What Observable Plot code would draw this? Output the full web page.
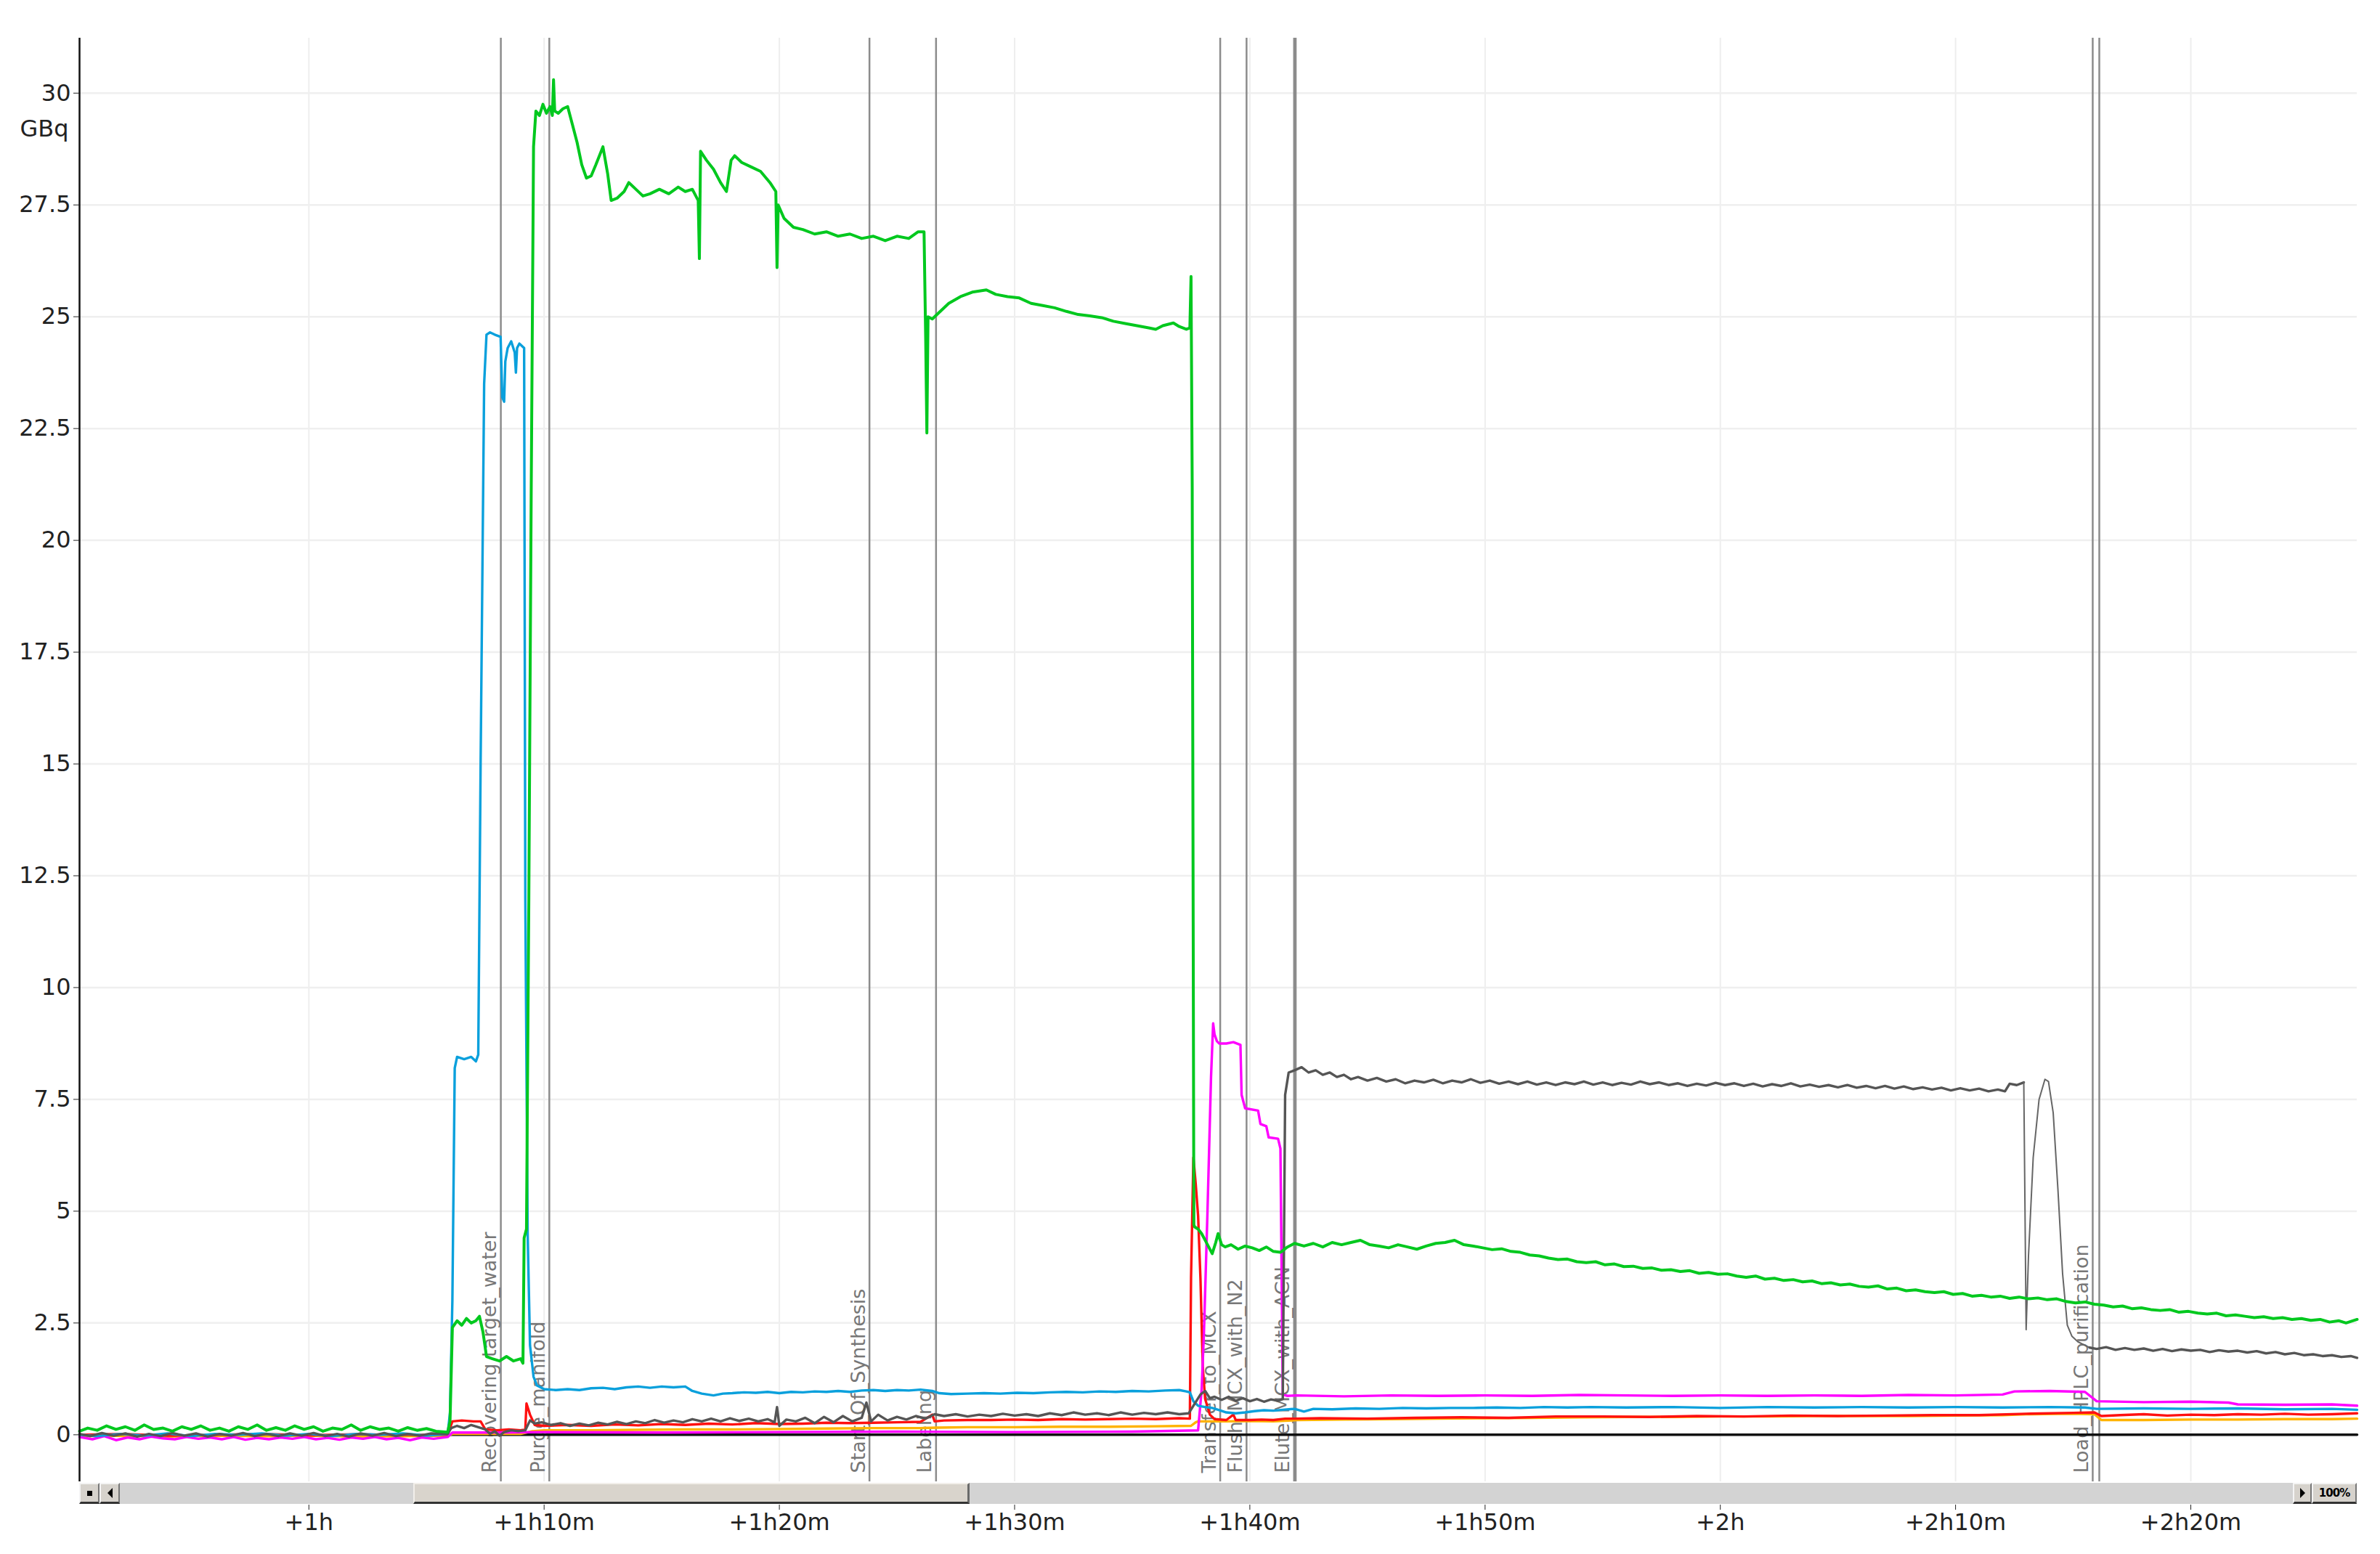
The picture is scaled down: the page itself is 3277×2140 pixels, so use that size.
<!DOCTYPE html>
<html>
<head>
<meta charset="utf-8">
<script src="https://cdn.jsdelivr.net/npm/d3@7"></script>
<script src="https://cdn.jsdelivr.net/npm/@observablehq/plot@0.6"></script>
<style>
  html, body { margin: 0; padding: 0; background: #fff; }
  #wrap { position: relative; width: 3277px; height: 2140px; overflow: hidden; font-family: "DejaVu Sans", sans-serif; }
  .sb { position: absolute; box-sizing: border-box; }
</style>
</head>
<body>
<div id="wrap"></div>
<script>
// ---- axis / layout data ----
const xDomain = [50.25, 147.07];           // minutes
const yDomain = [-1.05, 31.23];            // GBq
const xTicks = [60, 70, 80, 90, 100, 110, 120, 130, 140];
const xTickLabels = ["+1h", "+1h10m", "+1h20m", "+1h30m", "+1h40m", "+1h50m", "+2h", "+2h10m", "+2h20m"];
const yTicks = [0, 2.5, 5, 7.5, 10, 12.5, 15, 17.5, 20, 22.5, 25, 27.5, 30];
const unitLabel = "GBq";
const thumbRange = [64.44, 88.11];        // scrollbar thumb (minutes)

// ---- event markers ----
const eventTimes  = [68.16, 70.22, 83.83, 86.66, 98.74, 99.86, 101.88, 101.95, 135.83, 136.11];
const eventLabels = ["Recovering target_water", "Purge_manifold", "Start_Of_Synthesis", "Labeling",
                     "Transfer_to_MCX", "Flush_MCX_with_N2", "Elute_MCX_with_ACN", "",
                     "Load_HPLC_purification", ""];

// ---- series: [minutes, GBq] ----
const green = [[50.25,0.08],[50.6,0.15],[51.0,0.1],[51.4,0.2],[51.8,0.12],[52.2,0.18],[52.6,0.1],[53.0,0.22],[53.4,0.12],[53.8,0.15],[54.2,0.08],[54.6,0.18],[55.0,0.12],[55.4,0.2],[55.8,0.1],[56.2,0.15],[56.6,0.08],[57.0,0.18],[57.4,0.12],[57.8,0.22],[58.2,0.1],[58.6,0.16],[59.0,0.1],[59.4,0.2],[59.8,0.12],[60.2,0.18],[60.6,0.08],[61.0,0.15],[61.4,0.12],[61.8,0.22],[62.2,0.1],[62.6,0.18],[63.0,0.12],[63.4,0.15],[63.8,0.08],[64.2,0.16],[64.6,0.1],[65.0,0.14],[65.4,0.08],[65.9,0.06],
[66.0,0.3],[66.1,2.4],[66.3,2.55],[66.5,2.45],[66.7,2.6],[66.9,2.5],[67.1,2.55],[67.25,2.65],[67.4,2.3],[67.55,1.75],[67.8,1.7],[68.1,1.65],[68.4,1.75],[68.7,1.65],[69.0,1.7],[69.1,1.6],[69.15,4.4],[69.25,4.6],[69.35,12],[69.45,21],[69.55,28.8],[69.65,29.6],[69.8,29.5],[69.95,29.75],[70.1,29.55],[70.25,29.7],[70.35,29.5],[70.4,30.3],[70.45,29.6],[70.6,29.55],[70.8,29.65],[71.0,29.7],[71.2,29.3],[71.4,28.9],[71.6,28.4],[71.8,28.1],[72.0,28.15],[72.2,28.4],[72.5,28.8],[72.7,28.2],[72.85,27.6],[73.1,27.65],[73.4,27.8],[73.6,28.0],[73.9,27.85],[74.2,27.7],[74.5,27.75],[74.9,27.85],[75.3,27.75],[75.7,27.9],[76.0,27.8],[76.3,27.85],[76.55,27.6],[76.6,26.3],[76.65,28.7],[76.9,28.5],[77.2,28.3],[77.5,28.0],[77.75,27.8],[77.95,28.5],[78.1,28.6],[78.4,28.45],[78.8,28.35],[79.2,28.25],[79.6,28.0],[79.85,27.8],[79.9,26.1],[79.95,27.5],[80.2,27.2],[80.6,27.0],[81.0,26.95],[81.5,26.85],[82.0,26.9],[82.5,26.8],[83.0,26.85],[83.5,26.75],[84.0,26.8],[84.5,26.7],[85.0,26.8],[85.5,26.75],[85.9,26.9],[86.15,26.9],[86.22,24.5],[86.27,22.4],[86.32,25.0],[86.5,24.95],[86.8,25.1],[87.2,25.3],[87.7,25.45],[88.2,25.55],[88.8,25.6],[89.2,25.5],[89.7,25.45],[90.2,25.42],[90.7,25.3],[91.2,25.25],[91.7,25.2],[92.2,25.12],[92.7,25.05],[93.2,25.02],[93.7,24.98],[94.2,24.9],[94.7,24.85],[95.2,24.8],[95.7,24.75],[96.0,24.72],[96.3,24.8],[96.75,24.86],[97.0,24.78],[97.3,24.72],[97.45,24.75],[97.5,25.9],[97.55,21.2],[97.62,4.7],
[97.65,4.65],[97.8,4.6],[97.95,4.5],[98.1,4.35],[98.25,4.2],[98.4,4.05],[98.55,4.3],[98.65,4.5],[98.8,4.25],[98.95,4.2],[99.2,4.25],[99.5,4.15],[99.8,4.22],[100.1,4.18],[100.4,4.12],[100.7,4.2],[101.0,4.1],[101.3,4.08],[101.6,4.2],[101.9,4.28],[102.3,4.22],[102.7,4.28],[103.1,4.2],[103.5,4.3],[103.9,4.25],[104.3,4.3],[104.7,4.35],[105.1,4.25],[105.5,4.22],[105.9,4.18],[106.3,4.25],[106.7,4.2],[107.1,4.15],[107.5,4.22],[107.9,4.28],[108.3,4.3],[108.7,4.35],[109.1,4.25],[109.5,4.22],[109.9,4.18],[110.3,4.14],[110.7,4.16],[111.1,4.1],[111.5,4.08],[111.9,4.02],[112.3,4.0],[112.7,3.95],[113.1,3.92],[113.5,3.93],[113.9,3.87],[114.3,3.85],[114.7,3.87],[115.1,3.8],[115.5,3.82],[115.9,3.76],[116.3,3.77],[116.7,3.72],[117.1,3.73],[117.5,3.68],[117.9,3.69],[118.3,3.65],[118.7,3.67],[119.1,3.61],[119.5,3.63],[119.9,3.59],[120.3,3.6],[120.7,3.55],[121.1,3.52],[121.5,3.55],[121.9,3.48],[122.3,3.5],[122.7,3.45],[123.1,3.47],[123.5,3.42],[123.9,3.44],[124.3,3.38],[124.7,3.4],[125.1,3.35],[125.5,3.37],[125.9,3.32],[126.3,3.3],[126.7,3.33],[127.1,3.26],[127.5,3.28],[127.9,3.22],[128.3,3.24],[128.7,3.2],[129.1,3.18],[129.5,3.2],[129.9,3.14],[130.3,3.16],[130.7,3.1],[131.1,3.12],[131.5,3.08],[131.9,3.1],[132.3,3.05],[132.7,3.08],[133.1,3.04],[133.5,3.06],[133.9,3.02],[134.3,3.04],[134.7,2.98],[135.1,2.95],[135.5,2.97],[135.9,2.92],[136.3,2.9],[136.7,2.86],[137.1,2.88],[137.5,2.82],[137.9,2.84],[138.3,2.8],[138.7,2.78],[139.1,2.8],[139.5,2.74],[139.9,2.76],[140.3,2.72],[140.7,2.7],[141.1,2.72],[141.5,2.66],[141.9,2.68],[142.3,2.65],[142.7,2.62],[143.1,2.64],[143.5,2.6],[143.9,2.62],[144.3,2.58],[144.7,2.6],[145.1,2.56],[145.5,2.58],[145.9,2.52],[146.3,2.55],[146.6,2.5],[147.07,2.58]];

const blue = [[50.25,0.0],[51,-0.03],[52,0.02],[53,-0.02],[54,0.03],[55,-0.03],[56,0.02],[57,0.0],[58,0.03],[59,-0.02],[60,0.02],[61,-0.03],[62,0.02],[63,0.0],[64,0.03],[65,-0.02],[65.9,0.02],[66.0,0.5],[66.1,3.0],[66.2,8.2],[66.3,8.45],[66.6,8.4],[66.9,8.45],[67.1,8.35],[67.2,8.5],[67.3,15],[67.45,23.5],[67.55,24.6],[67.7,24.65],[67.9,24.6],[68.15,24.55],[68.22,23.2],[68.3,23.1],[68.35,24.0],[68.45,24.3],[68.6,24.45],[68.75,24.2],[68.8,23.75],[68.85,24.3],[68.95,24.4],[69.05,24.35],[69.15,24.3],[69.2,12],[69.3,4.5],[69.4,2.0],[69.55,1.3],[69.7,1.1],[70.0,1.02],[70.5,1.0],[71.0,1.02],[71.5,1.0],[72,1.04],[72.5,1.05],[73,1.02],[73.5,1.06],[74,1.08],[74.5,1.05],[75,1.08],[75.5,1.06],[76.0,1.08],[76.3,0.98],[76.7,0.92],[77.2,0.88],[77.6,0.92],[78.0,0.93],[78.5,0.95],[79,0.94],[79.5,0.96],[80,0.93],[80.5,0.96],[81,0.95],[81.5,0.97],[82,0.96],[82.5,0.98],[83,0.96],[83.5,0.99],[84,1.0],[84.5,0.98],[85,1.0],[85.5,0.99],[86,1.01],[86.5,0.98],[86.8,0.93],[87.3,0.91],[88,0.92],[88.7,0.93],[89.4,0.92],[90.1,0.94],[90.8,0.93],[91.5,0.95],[92.2,0.96],[92.9,0.95],[93.6,0.97],[94.3,0.96],[95,0.98],[95.7,0.97],[96.4,0.99],[97.0,1.0],[97.3,0.97],[97.45,0.95],[97.6,0.75],[97.8,0.65],[98.1,0.62],[98.4,0.6],[98.7,0.55],[99.0,0.5],[99.4,0.48],[99.8,0.5],[100.2,0.53],[100.6,0.55],[101.0,0.54],[101.4,0.56],[101.9,0.58],[102.3,0.52],[102.7,0.58],[103.5,0.57],[104.5,0.59],[105.5,0.58],[106.5,0.6],[107.5,0.59],[108.5,0.6],[109.5,0.6],[110.5,0.61],[111.5,0.6],[112.5,0.62],[113.5,0.61],[114.5,0.62],[116,0.61],[118,0.62],[120,0.6],[122,0.62],[124,0.61],[126,0.62],[128,0.61],[130,0.62],[132,0.61],[134,0.62],[135.5,0.61],[136,0.58],[138,0.59],[140,0.58],[142,0.59],[144,0.57],[146,0.58],[147.07,0.56]];

const magenta = [[50.25,-0.05],[50.8,-0.1],[51.3,-0.03],[51.8,-0.12],[52.3,-0.06],[52.8,-0.1],[53.3,-0.04],[53.8,-0.08],[54.3,-0.1],[54.8,-0.05],[55.3,-0.09],[55.8,-0.06],[56.3,-0.1],[56.8,-0.05],[57.3,-0.11],[57.8,-0.07],[58.3,-0.1],[58.8,-0.06],[59.3,-0.09],[59.8,-0.05],[60.3,-0.1],[60.8,-0.07],[61.3,-0.11],[61.8,-0.06],[62.3,-0.09],[62.8,-0.05],[63.3,-0.1],[63.8,-0.07],[64.3,-0.12],[64.8,-0.06],[65.3,-0.09],[65.9,-0.05],[66.1,0.05],[68,0.05],[70,0.06],[75,0.05],[80,0.06],[85,0.07],[90,0.06],[95,0.07],[97.8,0.1],[97.95,1.0],[98.05,2.3],[98.2,5.0],[98.35,8.0],[98.44,9.2],[98.5,8.95],[98.6,8.8],[98.7,8.75],[99.0,8.75],[99.3,8.78],[99.6,8.72],[99.65,7.6],[99.8,7.3],[100.35,7.25],[100.45,6.95],[100.7,6.9],[100.8,6.65],[101.2,6.62],[101.3,6.4],[101.4,0.9],[101.6,0.87],[102,0.88],[104,0.86],[106,0.88],[108,0.87],[110,0.88],[112,0.87],[114,0.89],[116,0.88],[118,0.87],[120,0.88],[122,0.87],[124,0.88],[126,0.87],[128,0.89],[130,0.88],[132,0.9],[132.5,0.97],[134,0.98],[135.5,0.96],[136.0,0.75],[138,0.73],[140,0.74],[141.6,0.72],[142,0.68],[144,0.67],[146,0.68],[147.07,0.65]];

const red = [[50.25,0.0],[52,0.02],[54,-0.02],[56,0.0],[58,0.02],[60,-0.01],[62,0.01],[64,0.0],[65.9,0.0],[66.1,0.3],[66.5,0.32],[67.0,0.3],[67.3,0.3],[67.5,0.12],[68.0,0.1],[68.5,0.12],[69.0,0.1],[69.2,0.12],[69.25,0.7],[69.4,0.45],[69.6,0.22],[70.0,0.2],[71,0.22],[72,0.2],[73,0.23],[74,0.21],[75,0.24],[76,0.22],[77,0.25],[78,0.23],[79,0.26],[80,0.24],[81,0.25],[82,0.27],[83,0.26],[84,0.27],[85,0.28],[86,0.29],[86.5,0.45],[86.6,0.3],[87,0.32],[88,0.33],[89,0.33],[90,0.34],[91,0.33],[92,0.35],[93,0.34],[94,0.35],[95,0.36],[96,0.35],[97,0.37],[97.45,0.36],[97.5,3.5],[97.6,6.2],[97.7,5.6],[97.8,4.9],[97.9,3.5],[98.0,1.5],[98.1,0.8],[98.3,0.45],[98.5,0.35],[99.0,0.33],[99.3,0.45],[99.4,0.33],[100,0.33],[100.5,0.34],[101,0.33],[101.5,0.36],[101.9,0.36],[103,0.37],[105,0.36],[107,0.38],[109,0.39],[111,0.38],[113,0.41],[115,0.41],[117,0.4],[119,0.42],[121,0.41],[123,0.43],[125,0.42],[127,0.43],[129,0.44],[131,0.44],[133,0.47],[135,0.49],[135.9,0.5],[136.2,0.42],[137,0.44],[138,0.46],[139,0.43],[140,0.45],[141,0.44],[142,0.46],[143,0.45],[144,0.47],[145,0.45],[146,0.46],[147.07,0.48]];

const orange = [[50.25,-0.03],[52,-0.02],[54,-0.04],[56,-0.02],[58,-0.03],[60,-0.02],[62,-0.04],[64,-0.03],[65.9,-0.02],[66.1,0.02],[69,0.02],[69.5,0.08],[70,0.1],[72,0.1],[74,0.11],[76,0.12],[78,0.12],[80,0.13],[82,0.14],[84,0.15],[86,0.15],[86.7,0.16],[88,0.17],[90,0.17],[92,0.18],[94,0.18],[96,0.19],[97.5,0.2],[97.7,0.28],[97.8,0.3],[99,0.3],[100,0.31],[101,0.3],[101.8,0.32],[102,0.33],[104,0.34],[106,0.35],[108,0.36],[110,0.37],[112,0.38],[114,0.39],[116,0.4],[118,0.4],[120,0.41],[122,0.41],[124,0.42],[126,0.42],[128,0.42],[130,0.43],[132,0.44],[133,0.46],[135,0.47],[135.9,0.46],[136.2,0.33],[138,0.33],[140,0.34],[142,0.34],[144,0.35],[146,0.35],[147.07,0.36]];

const darkGray = [[50.25,0.02],[50.7,-0.03],[51.2,0.04],[51.7,-0.02],[52.2,0.03],[52.7,-0.04],[53.2,0.02],[53.7,-0.03],[54.2,0.04],[54.7,-0.02],[55.2,0.03],[55.7,-0.04],[56.2,0.02],[56.7,-0.02],[57.2,0.04],[57.7,-0.03],[58.2,0.02],[58.7,-0.03],[59.2,0.03],[59.7,-0.02],[60.2,0.04],[60.7,-0.03],[61.2,0.02],[61.7,-0.04],[62.2,0.03],[62.7,-0.02],[63.2,0.04],[63.7,-0.03],[64.2,0.02],[64.7,-0.02],[65.2,0.03],[65.9,0.02],[66.05,0.15],[66.3,0.2],[66.6,0.15],[66.9,0.22],[67.2,0.17],[67.5,0.12],[67.7,0.02],[67.9,0.08],[68.1,-0.02],[68.3,0.06],[68.6,0.1],[68.9,0.08],[69.2,0.1],[69.4,0.32],[69.6,0.25],[69.9,0.28],[70.3,0.22],[70.7,0.26],[71.1,0.2],[71.5,0.25],[71.9,0.21],[72.3,0.27],[72.7,0.23],[73.1,0.29],[73.5,0.24],[73.9,0.3],[74.3,0.26],[74.7,0.33],[75.1,0.27],[75.5,0.32],[75.9,0.28],[76.3,0.35],[76.7,0.3],[77.1,0.36],[77.5,0.3],[77.9,0.37],[78.3,0.31],[78.7,0.36],[79.1,0.3],[79.5,0.35],[79.8,0.28],[79.9,0.62],[80.0,0.2],[80.3,0.34],[80.7,0.3],[81.1,0.38],[81.5,0.26],[81.9,0.4],[82.3,0.28],[82.7,0.42],[83.1,0.3],[83.5,0.38],[83.7,0.72],[83.9,0.3],[84.2,0.45],[84.6,0.32],[85.0,0.4],[85.4,0.34],[85.8,0.42],[86.2,0.36],[86.6,0.46],[87.0,0.42],[87.5,0.46],[88.0,0.41],[88.5,0.45],[89.0,0.42],[89.5,0.47],[90.0,0.43],[90.5,0.46],[91.0,0.42],[91.5,0.48],[92.0,0.44],[92.5,0.5],[93.0,0.45],[93.5,0.48],[94.0,0.44],[94.5,0.5],[95.0,0.45],[95.5,0.49],[96.0,0.46],[96.5,0.5],[97.0,0.46],[97.4,0.48],[97.6,0.65],[97.9,0.9],[98.1,0.98],[98.3,0.82],[98.5,0.85],[98.8,0.78],[99.1,0.85],[99.4,0.76],[99.7,0.82],[100.0,0.75],[100.3,0.8],[100.6,0.74],[100.9,0.79],[101.2,0.76],[101.4,0.8],[101.5,7.6],[101.65,8.1],[101.9,8.15],[102.2,8.22],[102.5,8.1],[102.8,8.15],[103.1,8.05],[103.4,8.1],[103.7,8.0],[104.0,8.05],[104.3,7.95],[104.6,8.0],[105.0,7.92],[105.4,7.98],[105.8,7.9],[106.2,7.95],[106.6,7.86],[107.0,7.92],[107.4,7.88],[107.8,7.94],[108.2,7.86],[108.6,7.92],[109.0,7.88],[109.4,7.95],[109.8,7.87],[110.2,7.92],[110.6,7.85],[111.0,7.9],[111.4,7.84],[111.8,7.9],[112.2,7.83],[112.6,7.88],[113.0,7.82],[113.4,7.88],[113.8,7.84],[114.2,7.9],[114.6,7.83],[115.0,7.88],[115.4,7.82],[115.8,7.87],[116.2,7.83],[116.6,7.9],[117.0,7.84],[117.4,7.88],[117.8,7.82],[118.2,7.86],[118.6,7.8],[119.0,7.85],[119.4,7.81],[119.8,7.87],[120.2,7.82],[120.6,7.86],[121.0,7.8],[121.4,7.85],[121.8,7.79],[122.2,7.84],[122.6,7.8],[123.0,7.86],[123.4,7.79],[123.8,7.83],[124.2,7.78],[124.6,7.82],[125.0,7.77],[125.4,7.82],[125.8,7.76],[126.2,7.8],[126.6,7.75],[127.0,7.8],[127.4,7.74],[127.8,7.79],[128.2,7.73],[128.6,7.77],[129.0,7.72],[129.4,7.76],[129.8,7.7],[130.2,7.75],[130.6,7.7],[131.0,7.74],[131.4,7.68],[131.8,7.72],[132.1,7.68],[132.3,7.85],[132.6,7.82],[132.9,7.88]];

const grayTransition = [[132.9,7.88],[133.0,2.35],[133.1,4.0],[133.3,6.2],[133.55,7.5],[133.8,7.95],[133.95,7.9],[134.15,7.2],[134.35,5.5],[134.55,3.6],[134.75,2.45],[134.95,2.2],[135.2,2.08],[135.5,2.0],[135.7,1.95]];

const grayTail = [[135.7,1.95],[136.0,1.92],[136.4,1.96],[136.8,1.9],[137.2,1.94],[137.6,1.9],[138.0,1.93],[138.4,1.88],[138.8,1.92],[139.2,1.87],[139.6,1.91],[140.0,1.88],[140.4,1.9],[140.8,1.85],[141.2,1.89],[141.6,1.86],[142.0,1.88],[142.4,1.84],[142.8,1.87],[143.2,1.82],[143.6,1.85],[144.0,1.8],[144.4,1.83],[144.8,1.78],[145.2,1.8],[145.6,1.76],[146.0,1.78],[146.4,1.74],[146.8,1.76],[147.07,1.72]];

const baseline = [[65.9,0],[147.07,0]];

// ---- build ----
const events = eventTimes.map((t, i) => ({t, label: eventLabels[i]}));
const rows = arr => arr.map(([t, v]) => ({t, v}));
const tickLabel = new Map(xTicks.map((t, i) => [t, xTickLabels[i]]));
const fmtY = d => String(d);

const W = 3277, H = 2140;
const mL = 109, mR = 32, mT = 52, mB = 100;

const lineOpts = (stroke, w) => ({x: "t", y: "v", stroke, strokeWidth: w, curve: "linear", strokeLinejoin: "round"});

const chart = Plot.plot({
  width: W, height: H,
  marginLeft: mL, marginRight: mR, marginTop: mT, marginBottom: mB,
  x: {domain: xDomain},
  y: {domain: yDomain},
  style: {fontFamily: "DejaVu Sans, sans-serif", fontSize: "32px", color: "#222", background: "#fff"},
  marks: [
    Plot.gridX(xTicks, {stroke: "#eeeeee", strokeOpacity: 1, strokeWidth: 2}),
    Plot.gridY(yTicks, {stroke: "#efefef", strokeOpacity: 1, strokeWidth: 2.5}),
    Plot.ruleX(events, {x: "t", stroke: "#8c8c8c", strokeWidth: 2.5}),
    Plot.text(events, {x: "t", text: "label", frameAnchor: "bottom", rotate: -90, textAnchor: "start",
      lineAnchor: "middle", dx: -15, dy: -12, fill: "#777777", fontSize: 27, fontFamily: "DejaVu Sans, sans-serif"}),
    Plot.line(rows(baseline), lineOpts("#111", 3.5)),
    Plot.line(rows(orange), lineOpts("#ffb300", 3.4)),
    Plot.line(rows(red), lineOpts("#ff1010", 3.4)),
    Plot.line(rows(magenta), lineOpts("#ff00ff", 3.4)),
    Plot.line(rows(blue), lineOpts("#0aa0dc", 3.4)),
    Plot.line(rows(darkGray), lineOpts("#555555", 3.4)),
    Plot.line(rows(grayTransition), lineOpts("#666666", 2)),
    Plot.line(rows(grayTail), lineOpts("#555555", 3.4)),
    Plot.line(rows(green), lineOpts("#00c81e", 4)),
    Plot.ruleX([xDomain[0]], {stroke: "#111", strokeWidth: 2.5}),
    Plot.axisY(yTicks, {tickFormat: fmtY, tickSize: 8, tickPadding: 4, fontSize: 32, label: null, stroke: "#222", fill: "#222"}),
    Plot.text([unitLabel], {text: d => d, y: [29.2], frameAnchor: "left", dx: -82, textAnchor: "start", fontSize: 32, fill: "#222"}),
    Plot.axisX(xTicks, {tickFormat: d => tickLabel.get(d), tickSize: 7, tickPadding: 5, dy: 32, fontSize: 32, label: null, stroke: "#222", fill: "#222"})
  ]
});

const wrap = document.getElementById("wrap");
wrap.appendChild(chart);

// ---- scrollbar chrome (positioned via the x scale) ----
const sx = chart.scale("x");
const x0 = sx.apply(xDomain[0]), x1 = sx.apply(xDomain[1]);
const sbTop = H - mB + 2, sbH = 29;
function box(left, width, css, html) {
  const d = document.createElement("div");
  d.className = "sb";
  d.style.left = left + "px"; d.style.top = sbTop + "px";
  d.style.width = width + "px"; d.style.height = sbH + "px";
  d.style.cssText += css;
  if (html) d.innerHTML = html;
  wrap.appendChild(d);
  return d;
}
box(x0, x1 - x0, "background:#d3d3d3;");
const tA = sx.apply(thumbRange[0]), tB = sx.apply(thumbRange[1]);
box(tA, tB - tA, "background:#d9d4cc;border-top:2px solid #f2efea;border-left:2px solid #f2efea;border-right:3px solid #6a6a6a;border-bottom:3px solid #333;");
const btnCss = "background:#d6d2cc;border-top:2px solid #f4f4f4;border-left:2px solid #f4f4f4;border-right:2px solid #777;border-bottom:3px solid #333;display:flex;align-items:center;justify-content:center;font-size:14px;color:#000;font-weight:bold;";
box(x0, 28, btnCss, "<span style='display:block;width:7px;height:7px;background:#000'></span>");
box(x0 + 28, 28, btnCss, "<span style='display:block;width:0;height:0;border-top:7px solid transparent;border-bottom:7px solid transparent;border-right:7px solid #000'></span>");
box(x1 - 88, 26, btnCss, "<span style='display:block;width:0;height:0;border-top:7px solid transparent;border-bottom:7px solid transparent;border-left:7px solid #000'></span>");
box(x1 - 62, 62, btnCss + "font-size:15px;letter-spacing:-1px;", "100%");
</script>
</body>
</html>
